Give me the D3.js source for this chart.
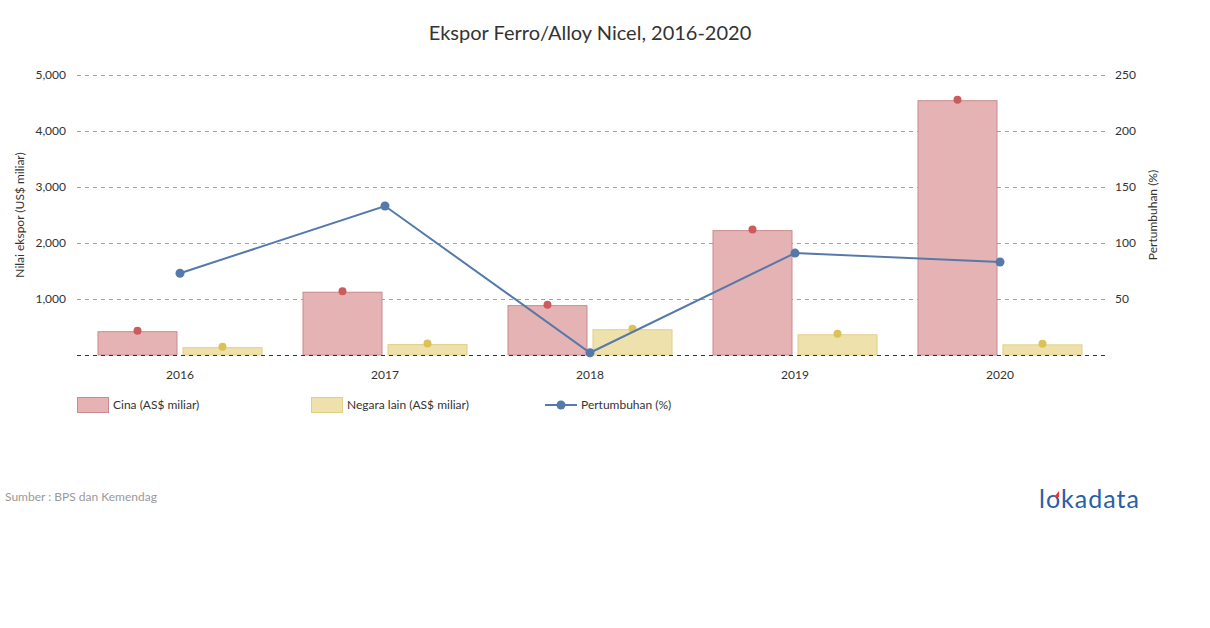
<!DOCTYPE html>
<html><head><meta charset="utf-8">
<script src="https://cdn.jsdelivr.net/npm/d3@7"></script>
<style>body{margin:0;background:#fff;font-family:Lato,"Open Sans",sans-serif;}</style>
</head><body><svg id="c" width="1210" height="628"></svg>
<script>
const categories = ["2016","2017","2018","2019","2020"];
const cina = [425, 1130, 890, 2230, 4550];
const negaraLain = [140, 195, 460, 370, 190];
const pertumbuhan = [73, 133, 2, 91, 83];
const leftTicks = [1000, 2000, 3000, 4000, 5000];
const rightTicks = [50, 100, 150, 200, 250];
const seriesNames = ["Cina (AS$ miliar)", "Negara lain (AS$ miliar)", "Pertumbuhan (%)"];

const svg = d3.select("#c");
const font = "Lato, 'Open Sans', sans-serif";
const x0 = d3.scaleBand().domain(categories).range([77.5, 1102.5]).paddingInner(40/205).paddingOuter(20/205);
const xc = d3.scaleBand().domain(categories).range([77.5, 1102.5]);
const x1 = d3.scaleBand().domain(["c","n"]).range([0, x0.bandwidth()]).paddingInner(5/85);
const yL = d3.scaleLinear().domain([0, 5000]).range([355, 75]);
const yR = d3.scaleLinear().domain([0, 250]).range([355, 75]);

// title
svg.append("text").attr("x", 590).attr("y", 40).attr("text-anchor","middle")
  .attr("font-family", font).attr("font-size", 20).attr("fill","#333").text("Ekspor Ferro/Alloy Nicel, 2016-2020");

// grid
const grid = svg.append("g");
grid.selectAll("line.g").data(leftTicks).join("line")
  .attr("x1", 77).attr("x2", 1105).attr("y1", d=>yL(d)+0.5).attr("y2", d=>yL(d)+0.5)
  .attr("stroke","#a0a0a0").attr("stroke-dasharray","4,4");

// axes labels
const axL = svg.append("g").attr("transform","translate(66,0)")
  .call(d3.axisLeft(yL).tickValues(leftTicks).tickSize(0).tickPadding(0).tickFormat(d3.format(",")));
axL.select(".domain").remove();
axL.selectAll("text").attr("font-family", font).attr("font-size", 12).attr("fill","#333");
const axR = svg.append("g").attr("transform","translate(1115,0)")
  .call(d3.axisRight(yR).tickValues(rightTicks).tickSize(0).tickPadding(0));
axR.select(".domain").remove();
axR.selectAll("text").attr("font-family", font).attr("font-size", 12).attr("fill","#333");
const axX = svg.append("g").attr("transform","translate(0,370)")
  .call(d3.axisBottom(xc).tickSize(0).tickPadding(0));
axX.select(".domain").remove();
axX.selectAll("text").attr("font-family", font).attr("font-size", 12).attr("fill","#333").attr("dy","0.71em");

svg.append("text").attr("transform","translate(24,215) rotate(-90)").attr("text-anchor","middle")
  .attr("font-family", font).attr("font-size", 12).attr("fill","#333").text("Nilai ekspor (US$ miliar)");
svg.append("text").attr("transform","translate(1157,215) rotate(-90)").attr("text-anchor","middle")
  .attr("font-family", font).attr("font-size", 12).attr("fill","#333").text("Pertumbuhan (%)");

// bars
const groups = svg.append("g").selectAll("g").data(categories).join("g")
  .attr("transform", d => `translate(${x0(d)},0)`);
const styles = {c:{fill:"#e5b3b3", stroke:"#c98a8e", dot:"#cc5c5c"}, n:{fill:"#efe1ab", stroke:"#e2cf86", dot:"#dcc254"}};
groups.each(function(d,i){
  const g = d3.select(this);
  [["c", cina[i]], ["n", negaraLain[i]]].forEach(([k,v])=>{
    g.append("rect").attr("x", x1(k)+0.5).attr("y", yL(v)+0.5).attr("width", x1.bandwidth()-1)
      .attr("height", yL(0)-yL(v)-0.5).attr("fill", styles[k].fill).attr("stroke", styles[k].stroke);
    g.append("circle").attr("cx", x1(k)+x1.bandwidth()/2).attr("cy", yL(v)-0.5).attr("r", 4).attr("fill", styles[k].dot);
  });
});
// zero line over bars
svg.append("line").attr("x1",77).attr("x2",1105).attr("y1",yL(0)+0.5).attr("y2",yL(0)+0.5)
  .attr("stroke","#333").attr("stroke-dasharray","4,4");

// line
const lineColor = "#5479aa";
const lineGen = d3.line().x((d,i)=>xc(categories[i])+xc.bandwidth()/2).y(d=>yR(d));
svg.append("path").datum(pertumbuhan).attr("d", lineGen).attr("fill","none").attr("stroke", lineColor).attr("stroke-width", 2);
svg.append("g").selectAll("circle").data(pertumbuhan).join("circle")
  .attr("cx",(d,i)=>xc(categories[i])+xc.bandwidth()/2).attr("cy", d=>yR(d)).attr("r",4.5).attr("fill", lineColor);

// legend
const lg = svg.append("g");
const lx = [77, 311, 545];
lg.append("rect").attr("x",lx[0]+0.5).attr("y",397.5).attr("width",31).attr("height",15).attr("fill",styles.c.fill).attr("stroke",styles.c.stroke);
lg.append("rect").attr("x",lx[1]+0.5).attr("y",397.5).attr("width",31).attr("height",15).attr("fill",styles.n.fill).attr("stroke",styles.n.stroke);
lg.append("line").attr("x1",lx[2]).attr("x2",lx[2]+32).attr("y1",405).attr("y2",405).attr("stroke",lineColor).attr("stroke-width",2);
lg.append("circle").attr("cx",lx[2]+16).attr("cy",405).attr("r",4.5).attr("fill",lineColor);
lg.selectAll("text").data(seriesNames).join("text")
  .attr("x",(d,i)=>lx[i]+36).attr("y",409).attr("font-family",font).attr("font-size",12).attr("fill","#333").text(d=>d);

// source
svg.append("text").attr("x",5).attr("y",501).attr("font-family",font).attr("font-size",12).attr("fill","#999").text("Sumber : BPS dan Kemendag");
// logo
svg.append("text").attr("x",1039).attr("y",508).attr("font-family",font).attr("font-size",25).attr("fill","#2b5ea8").attr("letter-spacing","1").text("lokadata");
svg.append("path").attr("d","M1054,497 l5,-6 l0,6 z").attr("fill","#e03a3a");
</script></body></html>
